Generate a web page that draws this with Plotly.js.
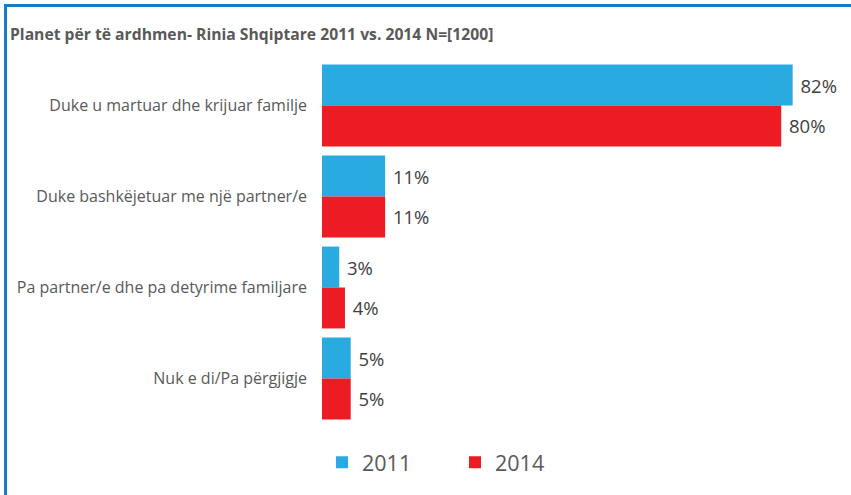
<!DOCTYPE html>
<html>
<head>
<meta charset="utf-8">
<script src="https://cdn.plot.ly/plotly-3.0.1.min.js"></script>
<style>
html,body{margin:0;padding:0;background:#fff;}
#chart{position:absolute;left:0;top:0;width:851px;height:495px;}
#frame{position:absolute;left:4px;top:4px;width:847px;height:491px;border-top:3px solid #1b7bc4;border-left:3px solid #1b7bc4;box-sizing:border-box;pointer-events:none;}
</style>
</head>
<body>
<div id="chart"></div>
<div id="frame"></div>
<script>
const categories = [
  "Duke u martuar dhe krijuar familje",
  "Duke bashkëjetuar me një partner/e",
  "Pa partner/e dhe pa detyrime familjare",
  "Nuk e di/Pa përgjigje"
];
const values2011 = [82, 11, 3, 5];
const values2014 = [80, 11, 4, 5];
const seriesNames = ["2011", "2014"];

const fontFam = "'Open Sans', 'Noto Sans', sans-serif";
const textCol = "#404040";

const traces = [
  {
    type: "bar", orientation: "h", name: seriesNames[0],
    y: categories, x: values2011,
    marker: {color: "#29ABE2"},
    text: values2011.map(v => " " + v + "%"),
    textposition: "outside", cliponaxis: false,
    textfont: {family: fontFam, size: 18.5, color: textCol},
    hoverinfo: "none"
  },
  {
    type: "bar", orientation: "h", name: seriesNames[1],
    y: categories, x: values2014,
    marker: {color: "#ED1C24"},
    text: values2014.map(v => " " + v + "%"),
    textposition: "outside", cliponaxis: false,
    textfont: {family: fontFam, size: 18.5, color: textCol},
    hoverinfo: "none"
  }
];

const layout = {
  width: 851, height: 495,
  margin: {l: 322, r: 21, t: 60, b: 66},
  paper_bgcolor: "#ffffff", plot_bgcolor: "#ffffff",
  font: {family: fontFam, color: textCol},
  title: {
    text: "<b>Planet për të ardhmen- Rinia Shqiptare 2011 vs. 2014 N=[1200]</b>",
    font: {family: fontFam, size: 15.7, color: "#595959"},
    x: 10/851, xanchor: "left", xref: "container",
    y: 1 - 35/495, yanchor: "middle", yref: "container"
  },
  barmode: "group", bargap: 0.1, bargroupgap: 0,
  xaxis: {
    range: [0, 88.5], showgrid: false, zeroline: false,
    showticklabels: false, showline: false, ticks: ""
  },
  yaxis: {
    autorange: "reversed", showgrid: false, zeroline: false,
    showline: false, ticks: "", ticklabelstandoff: 14,
    tickfont: {family: fontFam, size: 16, color: "#595959"}
  },
  showlegend: true,
  legend: {
    orientation: "h", x: 0, xanchor: "left", y: -0.105, yanchor: "middle",
    font: {family: fontFam, size: 21.5, color: "#595959"},
    entrywidth: 88, entrywidthmode: "pixels", itemclick: false
  }
};

Plotly.newPlot("chart", traces, layout, {staticPlot: true});
</script>
</body>
</html>
